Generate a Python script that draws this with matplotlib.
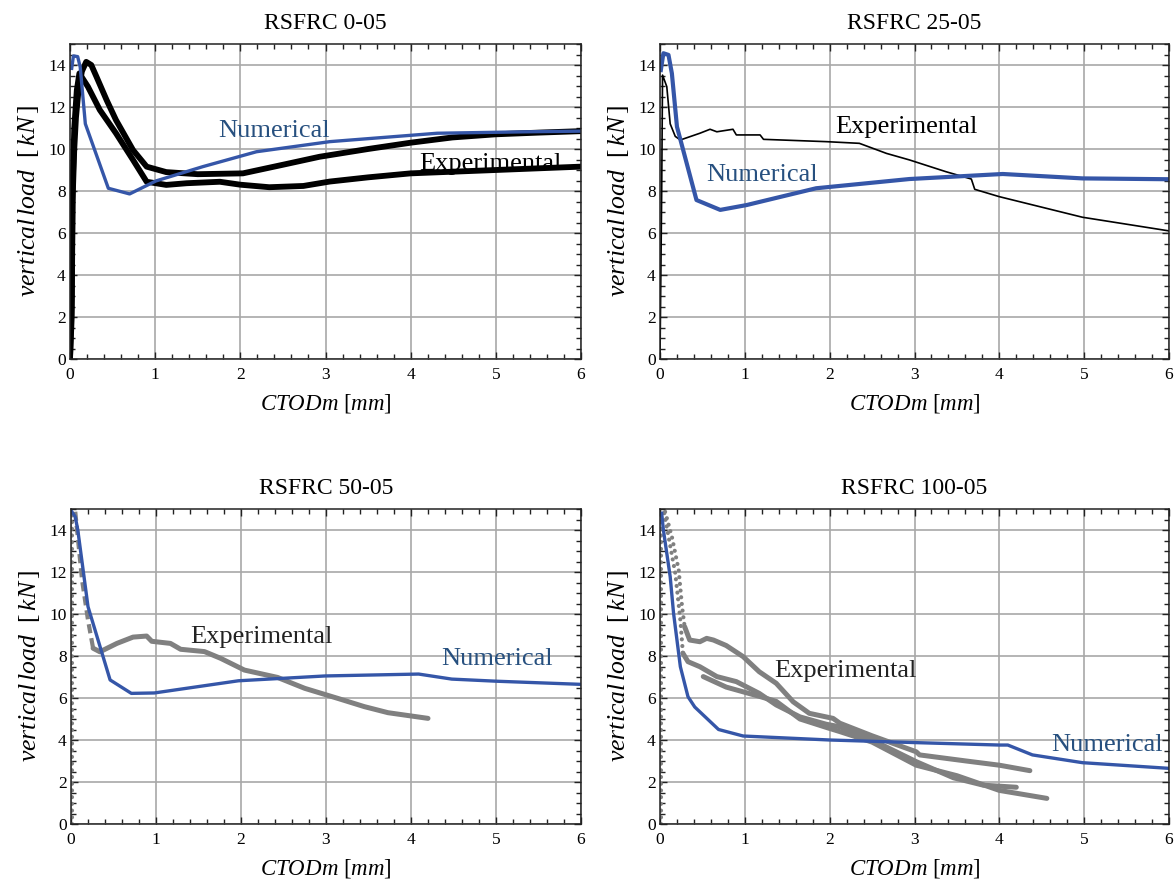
import matplotlib
matplotlib.use('Agg')
import matplotlib.pyplot as plt
from matplotlib.ticker import MultipleLocator

plt.rcParams['font.family'] = ['Liberation Serif', 'DejaVu Serif']
plt.rcParams['mathtext.fontset'] = 'custom'
plt.rcParams['mathtext.rm'] = 'Liberation Serif'
plt.rcParams['mathtext.it'] = 'Liberation Serif:italic'

BLUE = '#3556a8'
BLUE_TXT = '#27507f'
GRAY = '#808080'

# ---------------- RSFRC 0-05 ----------------
num_tl_x = [0.02, 0.04, 0.09, 0.12, 0.18, 0.45, 0.70, 1.01, 1.56, 2.19, 3.05, 4.31, 5.36, 6.0]
num_tl_y = [13.84, 14.43, 14.4, 13.9, 11.2, 8.13, 7.86, 8.48, 9.16, 9.87, 10.35, 10.75, 10.82, 10.85]
exp_tl_a_x = [0.0, 0.02, 0.03, 0.05, 0.07, 0.10, 0.14, 0.19, 0.25, 0.31, 0.43, 0.54, 0.74, 0.90,
              1.13, 1.5, 2.03, 2.5, 2.93, 3.5, 4.0, 4.49, 5.0, 5.5, 6.0]
exp_tl_a_y = [0.0, 2.0, 7.5, 10.0, 11.5, 12.8, 13.7, 14.15, 14.0, 13.45, 12.33, 11.38, 9.95, 9.16,
              8.9, 8.8, 8.84, 9.25, 9.63, 10.0, 10.3, 10.55, 10.7, 10.78, 10.85]
exp_tl_b_x = [0.0, 0.02, 0.03, 0.05, 0.08, 0.11, 0.21, 0.35, 0.54, 0.74, 0.90, 1.13, 1.37, 1.76,
              2.0, 2.34, 2.74, 3.05, 3.5, 4.0, 5.0, 6.0]
exp_tl_b_y = [0.0, 3.0, 8.0, 11.0, 12.8, 13.6, 12.97, 11.86, 10.75, 9.48, 8.44, 8.29, 8.37, 8.44,
              8.3, 8.18, 8.24, 8.45, 8.65, 8.84, 9.0, 9.16]

# ---------------- RSFRC 25-05 ----------------
num_tr_x = [0.01, 0.04, 0.10, 0.14, 0.20, 0.43, 0.71, 1.02, 1.84, 2.94, 4.04, 4.98, 6.0]
num_tr_y = [13.76, 14.56, 14.48, 13.6, 11.06, 7.57, 7.1, 7.33, 8.13, 8.57, 8.81, 8.6, 8.56]
exp_tr_x = [0.0, 0.02, 0.03, 0.08, 0.12, 0.18, 0.24, 0.47, 0.59, 0.67, 0.86, 0.90, 1.18, 1.22,
            1.96, 2.35, 2.67, 2.94, 3.37, 3.67, 3.71, 4.0, 4.98, 6.0]
exp_tr_y = [0.0, 8.0, 13.52, 12.97, 11.2, 10.6, 10.43, 10.75, 10.94, 10.82, 10.94, 10.67, 10.67, 10.46,
            10.35, 10.27, 9.79, 9.48, 8.92, 8.57, 8.08, 7.73, 6.75, 6.1]

# ---------------- RSFRC 50-05 ----------------
num_bl_x = [0.01, 0.05, 0.08, 0.20, 0.46, 0.71, 0.98, 1.97, 2.99, 4.09, 4.48, 5.0, 6.0]
num_bl_y = [14.87, 14.63, 14.0, 10.35, 6.86, 6.22, 6.24, 6.82, 7.05, 7.14, 6.9, 6.8, 6.65]
rise_bl_x = [0.01, 0.01]
rise_bl_y = [0.0, 15.0]
dash_bl_x = [0.05, 0.13, 0.20, 0.26]
dash_bl_y = [14.87, 11.62, 9.71, 8.37]
exp_bl_x = [0.26, 0.34, 0.54, 0.73, 0.89, 0.95, 1.17, 1.29, 1.57, 1.76, 2.04, 2.43, 2.75, 3.14,
            3.45, 3.73, 4.2]
exp_bl_y = [8.37, 8.2, 8.6, 8.9, 8.95, 8.7, 8.6, 8.32, 8.21, 7.89, 7.33, 6.98, 6.46, 5.98,
            5.59, 5.3, 5.03]

# ---------------- RSFRC 100-05 ----------------
num_br_x = [0.02, 0.04, 0.12, 0.16, 0.24, 0.33, 0.41, 0.69, 0.98, 2.0, 3.06, 4.0, 4.1, 4.39, 4.98, 6.0]
num_br_y = [14.8, 14.0, 11.78, 10.03, 7.49, 6.06, 5.57, 4.5, 4.19, 4.0, 3.87, 3.76, 3.76, 3.29, 2.92, 2.65]
rise_br_x = [0.01, 0.01]
rise_br_y = [0.0, 15.0]
dot_br_a_x = [0.06, 0.14, 0.22, 0.26, 0.29]
dot_br_a_y = [14.87, 13.68, 12.1, 10.35, 9.4]
exp_br_a_x = [0.29, 0.35, 0.47, 0.55, 0.63, 0.78, 0.98, 1.17, 1.37, 1.57, 1.76, 2.04, 2.12, 2.5,
              3.02, 3.06, 3.61, 4.0, 4.36]
exp_br_a_y = [9.4, 8.76, 8.68, 8.84, 8.76, 8.5, 7.97, 7.25, 6.7, 5.82, 5.27, 5.03, 4.8, 4.2,
              3.44, 3.29, 3.0, 2.8, 2.54]
dot_br_b_x = [0.05, 0.18, 0.24, 0.27]
dot_br_b_y = [14.8, 11.94, 9.71, 8.13]
exp_br_b_x = [0.27, 0.33, 0.47, 0.67, 0.90, 1.17, 1.37, 1.65, 1.96, 2.12, 2.5, 3.02, 3.46, 3.81, 4.2]
exp_br_b_y = [8.13, 7.73, 7.49, 7.02, 6.78, 6.22, 5.67, 5.1, 4.75, 4.63, 4.0, 2.97, 2.2, 1.85, 1.75]
exp_br_c_x = [0.51, 0.78, 1.17, 1.37, 1.65, 1.96, 2.12, 2.5, 3.02, 3.5, 4.0, 4.56]
exp_br_c_y = [7.02, 6.52, 6.08, 5.84, 5.0, 4.6, 4.4, 3.9, 2.8, 2.3, 1.6, 1.22]

titles = ['RSFRC 0-05', 'RSFRC 25-05', 'RSFRC 50-05', 'RSFRC 100-05']

W, H = 1175, 884
fig = plt.figure(figsize=(W / 100, H / 100), dpi=100)
boxes = [(70, 44, 581, 359), (660, 44, 1169, 359), (71, 509, 581, 824), (660, 509, 1169, 824)]
axes = []
for (l, t, r, b) in boxes:
    axes.append(fig.add_axes([l / W, 1 - b / H, (r - l) / W, (b - t) / H]))


def style(ax, title):
    ax.set_xlim(0, 6)
    ax.set_ylim(0, 15)
    ax.xaxis.set_major_locator(MultipleLocator(1))
    ax.xaxis.set_minor_locator(MultipleLocator(0.2))
    ax.yaxis.set_major_locator(MultipleLocator(2))
    ax.yaxis.set_minor_locator(MultipleLocator(0.5))
    ax.tick_params(which='both', direction='in', top=True, right=True, labelsize=12.5,
                   width=1.0, color='#222222')
    ax.tick_params(which='major', length=5)
    ax.tick_params(which='minor', length=3.5)
    ax.tick_params(axis='x', which='major', pad=6)
    ax.tick_params(axis='y', which='major', pad=3)
    ax.grid(True, which='major', color='#a8a8a8', lw=1.2)
    ax.set_axisbelow(True)
    for s in ax.spines.values():
        s.set_linewidth(1.1)
        s.set_color('#222222')
    ax.set_title(title, fontsize=17, pad=11)
    ax.set_xlabel(r'$CTODm\ \mathrm{[}mm\mathrm{]}$', fontsize=16.5, labelpad=6)
    ax.set_ylabel(r'$vertical\,load\ \ \mathrm{[}\,kN\,\mathrm{]}$', fontsize=18.5, labelpad=5)


dot_style = dict(color=GRAY, lw=3.0, linestyle=(0, (0.01, 1.6)), dash_capstyle='round')

# top-left
ax = axes[0]
ax.plot(exp_tl_a_x, exp_tl_a_y, color='black', lw=4.2, solid_joinstyle='round')
ax.plot(exp_tl_b_x, exp_tl_b_y, color='black', lw=4.2, solid_joinstyle='round')
ax.plot(num_tl_x, num_tl_y, color=BLUE, lw=2.4)
ax.text(1.74, 10.56, 'Numerical', color=BLUE_TXT, fontsize=19)
ax.text(4.10, 9.02, 'Experimental', color='black', fontsize=19)

# top-right
ax = axes[1]
ax.plot(exp_tr_x, exp_tr_y, color='black', lw=1.2)
ax.plot(num_tr_x, num_tr_y, color=BLUE, lw=3.0)
ax.text(2.06, 10.78, 'Experimental', color='black', fontsize=19)
ax.text(0.55, 8.48, 'Numerical', color=BLUE_TXT, fontsize=19)

# bottom-left
ax = axes[2]
ax.plot(rise_bl_x, rise_bl_y, **dot_style)
ax.plot(dash_bl_x, dash_bl_y, color=GRAY, lw=3.0, linestyle=(0, (2.2, 1.2)))
ax.plot(exp_bl_x, exp_bl_y, color=GRAY, lw=3.6, solid_capstyle='round')
ax.plot(num_bl_x, num_bl_y, color=BLUE, lw=2.4)
ax.text(1.40, 8.63, 'Experimental', color='#222222', fontsize=19)
ax.text(4.36, 7.57, 'Numerical', color=BLUE_TXT, fontsize=19)

# bottom-right
ax = axes[3]
ax.plot(rise_br_x, rise_br_y, **dot_style)
ax.plot(dot_br_a_x, dot_br_a_y, **dot_style)
ax.plot(dot_br_b_x, dot_br_b_y, **dot_style)
for xs, ys in [(exp_br_a_x, exp_br_a_y), (exp_br_b_x, exp_br_b_y), (exp_br_c_x, exp_br_c_y)]:
    ax.plot(xs, ys, color=GRAY, lw=3.6, solid_capstyle='round')
ax.plot(num_br_x, num_br_y, color=BLUE, lw=2.4)
ax.text(1.35, 7.02, 'Experimental', color='#222222', fontsize=19)
ax.text(4.61, 3.49, 'Numerical', color=BLUE_TXT, fontsize=19)

for ax, t in zip(axes, titles):
    style(ax, t)

fig.savefig('out.png', dpi=100)
